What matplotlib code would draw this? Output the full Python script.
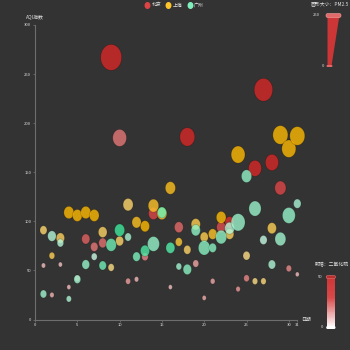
"""
AQI bubble chart: Beijing / Shanghai / Guangzhou, daily values.
"""

import colorsys

import matplotlib

matplotlib.use("Agg")
import matplotlib.pyplot as plt  # noqa: E402
import numpy as np
from matplotlib.colors import to_rgb, LinearSegmentedColormap
from matplotlib.lines import Line2D
from matplotlib.patches import Polygon, FancyBboxPatch, Rectangle
from matplotlib.path import Path

plt.rcParams["font.family"] = ["Noto Sans CJK SC", "DejaVu Sans"]

# day, AQI, PM2.5, SO2
days = list(range(1, 32))

bj_aqi = [55, 25, 56, 33, 42, 82, 74, 78, 267, 185, 39, 41, 64, 108, 108, 33,
          94, 186, 57, 22, 39, 94, 99, 31, 42, 154, 234, 160, 134, 52, 46]
bj_pm25 = [9, 11, 7, 7, 24, 58, 49, 55, 216, 127, 19, 11, 38, 79, 63, 6,
           66, 142, 31, 8, 15, 69, 73, 12, 27, 117, 185, 120, 96, 24, 5]
bj_so2 = [6, 9, 5, 6, 16, 33, 27, 29, 64, 27, 15, 7, 22, 41, 26, 5,
          31, 79, 14, 10, 13, 39, 48, 16, 22, 58, 69, 50, 41, 21, 6]

sh_aqi = [91, 65, 83, 109, 106, 109, 106, 89, 53, 80, 117, 99, 95, 116, 108, 134,
          79, 71, 97, 84, 87, 104, 87, 168, 65, 39, 39, 93, 188, 174, 187]
sh_pm25 = [45, 27, 60, 81, 77, 81, 77, 65, 33, 55, 81, 71, 69, 87, 80, 83,
           43, 46, 71, 57, 63, 77, 62, 128, 45, 24, 24, 68, 143, 131, 143]
sh_so2 = [23, 29, 27, 51, 51, 51, 51, 26, 17, 24, 24, 42, 50, 40, 37, 43,
          37, 25, 31, 31, 41, 48, 28, 56, 17, 17, 19, 29, 51, 50, 53]

gz_aqi = [26, 85, 78, 21, 41, 56, 64, 55, 76, 91, 84, 64, 70, 77, 109, 73,
          54, 51, 91, 73, 73, 84, 93, 99, 146, 113, 81, 56, 82, 106, 118]
gz_pm25 = [37, 62, 38, 21, 42, 52, 30, 48, 85, 81, 39, 51, 69, 105, 68, 68,
           27, 61, 71, 102, 50, 94, 77, 130, 84, 108, 48, 48, 92, 116, 50]
gz_so2 = [13, 8, 7, 9, 13, 16, 2, 26, 27, 40, 11, 23, 36, 16, 29, 34,
          12, 19, 18, 19, 20, 18, 7, 15, 17, 15, 3, 9, 13, 16, 11]

cities = ["北京", "上海", "广州"]
city_colors = ["#dd4444", "#fec42c", "#80F1BE"]
x_ticks = [0, 5, 10, 15, 20, 25, 30, 31]
y_ticks = [0, 50, 100, 150, 200, 250, 300]

BG = "#333333"
AXIS_COLOR = "#6e6e6e"
TEXT_COLOR = "#e0e0e0"

# the reference is squeezed, so circles come out as tall ellipses
_t = np.linspace(0, 2 * np.pi, 64)
ELLIPSE = Path(np.column_stack([np.cos(_t) * 0.34, np.sin(_t) * 0.42]), closed=True)


def fx(px):
    return px / 350


def fy(py):
    return 1 - py / 350


def bubble_size(pm25):
    # visualMap: PM2.5 0..250 -> symbol 10..70 px, then squeezed
    sz = 10 + 60 * np.clip(np.asarray(pm25) / 250, 0, 1)
    return (0.42 * sz * 0.72) ** 2


def bubble_colors(base, so2):
    # visualMap: SO2 0..50 -> lightness 0.9..0.5
    h, _, s = colorsys.rgb_to_hls(*to_rgb(base))
    out = []
    for v in so2:
        light = 0.9 - 0.4 * min(max(v / 50, 0), 1)
        r, g, b = colorsys.hls_to_rgb(h, light, s)
        out.append((r, g, b, 0.8))
    return out


fig = plt.figure(figsize=(3.5, 3.5), dpi=100, facecolor=BG)
ax = fig.add_axes([fx(35), fy(319.5), (297.3 - 35) / 350, (319.5 - 25) / 350])
ax.set_facecolor(BG)

series = [
    (bj_aqi, bj_pm25, bj_so2),
    (sh_aqi, sh_pm25, sh_so2),
    (gz_aqi, gz_pm25, gz_so2),
]
for (aqi, pm, so2), base in zip(series, city_colors):
    ax.scatter(days, aqi, s=bubble_size(pm), marker=ELLIPSE,
               c=bubble_colors(base, so2), edgecolors=(0, 0, 0, 0.25),
               linewidths=0.5, zorder=3, clip_on=False)

ax.set_xlim(0, 31)
ax.set_ylim(0, 300)
ax.set_xticks(x_ticks)
ax.set_yticks(y_ticks)
for side in ("top", "right"):
    ax.spines[side].set_visible(False)
for side in ("left", "bottom"):
    ax.spines[side].set_color(AXIS_COLOR)
    ax.spines[side].set_linewidth(0.8)
ax.tick_params(colors=AXIS_COLOR, labelcolor=TEXT_COLOR, labelsize=3.0,
               length=1.5, width=0.6, pad=1.2)

fig.text(fx(35), fy(17), "AQI指数", color=TEXT_COLOR, fontsize=3.5,
         ha="center", va="center")
fig.text(fx(301), fy(319.5), "日期", color=TEXT_COLOR, fontsize=3.5,
         ha="left", va="center")

# legend
legend_x = [147.3, 168.3, 190.0]
for name, col, lx in zip(cities, city_colors, legend_x):
    fig.add_artist(Line2D([fx(lx)], [fy(5)], marker=ELLIPSE, markersize=4.0,
                          color=col, linestyle="none", transform=fig.transFigure))
    fig.text(fx(lx + 4), fy(5), name, color=TEXT_COLOR, fontsize=3.5,
             ha="left", va="center")

# visualMap 1: bubble size (PM2.5)
fig.text(fx(349), fy(4), "圆形大小：PM2.5", color=TEXT_COLOR, fontsize=3.5,
         ha="right", va="center")
fig.add_artist(Polygon([(fx(327.5), fy(15)), (fx(339.5), fy(15)),
                        (fx(331.5), fy(66)), (fx(327.5), fy(66))],
                       closed=True, facecolor="#cc3636", edgecolor="none",
                       transform=fig.transFigure))
fig.add_artist(FancyBboxPatch((fx(326), fy(17.5)), fx(15), 4 / 350,
                              boxstyle="round,pad=0,rounding_size=0.005",
                              facecolor="#e06a6a", edgecolor="#f0a0a0",
                              linewidth=0.4, transform=fig.transFigure))
fig.add_artist(FancyBboxPatch((fx(326.5), fy(67)), fx(6), 2 / 350,
                              boxstyle="round,pad=0,rounding_size=0.003",
                              facecolor="#e06a6a", edgecolor="none",
                              transform=fig.transFigure))
fig.text(fx(320), fy(15), "250", color=TEXT_COLOR, fontsize=3.0,
         ha="right", va="center")
fig.text(fx(324.5), fy(66), "0", color=TEXT_COLOR, fontsize=3.0,
         ha="right", va="center")

# visualMap 2: lightness (SO2), drawn as thin strips
fig.text(fx(349), fy(265), "明暗：二氧化硫", color=TEXT_COLOR, fontsize=3.5,
         ha="right", va="center")
cmap = LinearSegmentedColormap.from_list(
    "so2", [(0, "#ffffff"), (0.3, "#eba3a3"), (0.6, "#d84848"), (1, "#cf3535")])
bar_top, bar_bot = 277.0, 327.7
n_strips = 60
edges = np.linspace(bar_bot, bar_top, n_strips + 1)
for i in range(n_strips):
    fig.add_artist(Rectangle((fx(326.7), fy(edges[i])), (335 - 326.7) / 350,
                             (edges[i] - edges[i + 1]) / 350 + 0.001,
                             facecolor=cmap((i + 0.5) / n_strips),
                             edgecolor="none", transform=fig.transFigure))
fig.add_artist(FancyBboxPatch((fx(326.2), fy(278.5)), fx(9.3), 3 / 350,
                              boxstyle="round,pad=0,rounding_size=0.004",
                              facecolor="#b83030", edgecolor="#e07070",
                              linewidth=0.4, transform=fig.transFigure))
fig.add_artist(FancyBboxPatch((fx(326.2), fy(329)), fx(9.3), 3 / 350,
                              boxstyle="round,pad=0,rounding_size=0.004",
                              facecolor="#ffffff", edgecolor="none",
                              transform=fig.transFigure))
fig.text(fx(323), fy(277), "50", color=TEXT_COLOR, fontsize=3.0,
         ha="right", va="center")
fig.text(fx(323.5), fy(327.5), "0", color=TEXT_COLOR, fontsize=3.0,
         ha="right", va="center")

fig.savefig("out.png", dpi=100, facecolor=BG)
plt.close(fig)
